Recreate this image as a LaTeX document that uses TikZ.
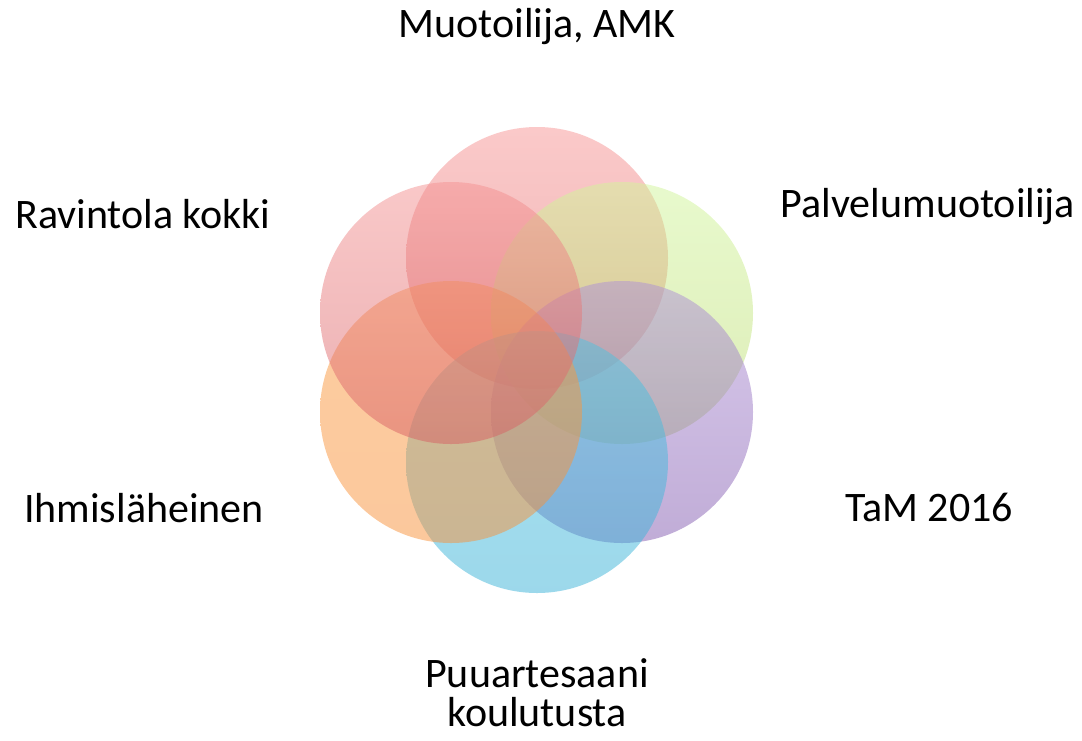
\documentclass[tikz,border=0pt]{standalone}
\usepackage{fontspec}
\setmainfont{Carlito}
\definecolor{pinkTop}{RGB}{247,148,148}
\definecolor{pinkBot}{RGB}{222,104,104}
\definecolor{greenTop}{RGB}{209,245,155}
\definecolor{greenBot}{RGB}{187,217,110}
\definecolor{lilacTop}{RGB}{175,145,215}
\definecolor{lilacBot}{RGB}{130,90,175}
\definecolor{cyanTop}{RGB}{80,195,225}
\definecolor{cyanBot}{RGB}{58,178,215}
\definecolor{orangeTop}{RGB}{251,155,65}
\definecolor{orangeBot}{RGB}{248,145,58}
\definecolor{roseTop}{RGB}{244,146,146}
\definecolor{roseBot}{RGB}{215,95,100}
\begin{document}
\begin{tikzpicture}
        [x=1pt, y=-1pt,
        ring/.style={circle, minimum size=262pt, inner sep=0pt, fill opacity=0.5},
        lab/.style={anchor=base, align=center, font=\fontsize{42}{39}\selectfont}]
        \useasboundingbox (0,0) rectangle (1082,740);
        \node (muo) at (537,258) [ring, top color=pinkTop, bottom color=pinkBot] {};
        \node (pal) at (622,313) [ring, top color=greenTop, bottom color=greenBot] {};
        \node (tam) at (622,412) [ring, top color=lilacTop, bottom color=lilacBot] {};
        \node (puu) at (537,462) [ring, top color=cyanTop, bottom color=cyanBot] {};
        \node (ihm) at (451,412) [ring, top color=orangeTop, bottom color=orangeBot] {};
        \node (rav) at (451,313) [ring, top color=roseTop, bottom color=roseBot] {};
        \node (muoT) at (537,37) [lab] {Muotoilija, AMK};
        \node (palT) at (928,217) [lab] {Palvelumuotoilija};
        \node (tamT) at (929,521) [lab] {TaM 2016};
        \node (puuT) at (537,726) [lab] {Puuartesaani\\koulutusta};
        \node (ihmT) at (144,522) [lab] {Ihmisläheinen};
        \node (ravT) at (143,228) [lab] {Ravintola kokki};
\end{tikzpicture}
\end{document}
